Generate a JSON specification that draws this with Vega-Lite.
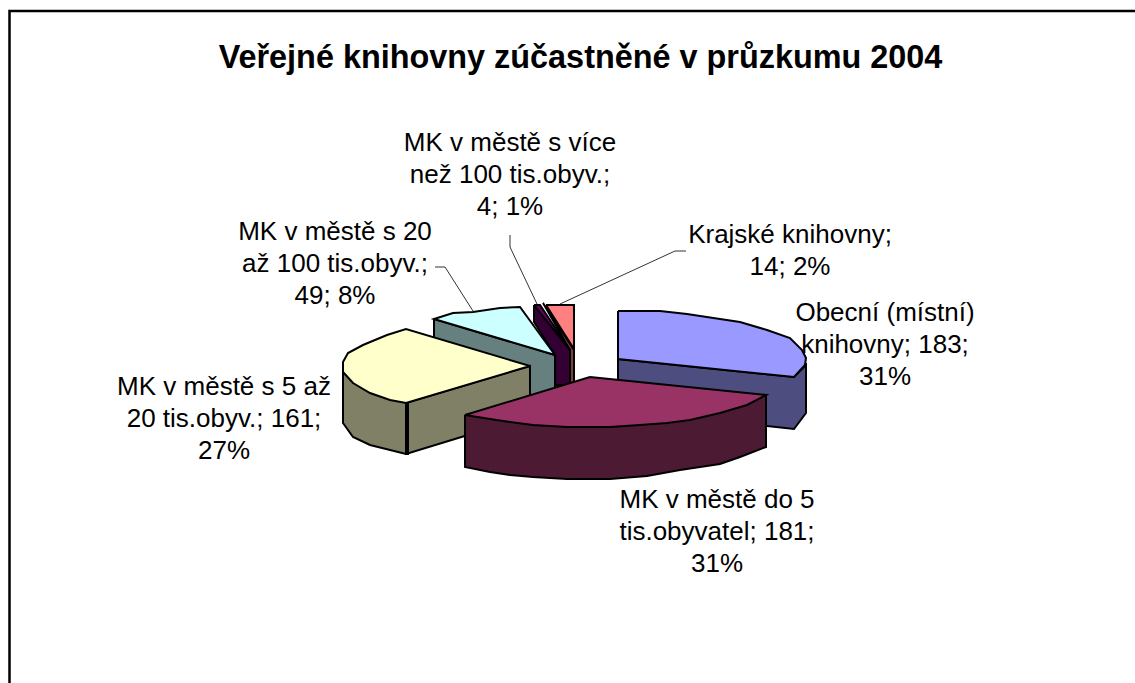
{"$schema":"https://vega.github.io/schema/vega-lite/v6.json","width":1135,"height":683,"padding":0,"autosize":{"type":"none"},"background":"white","view":{"stroke":null},
"title":{"text":"Veřejné knihovny zúčastněné v průzkumu 2004","anchor":"middle","offset":0,"dy":74,"dx":13,"font":"Liberation Sans","fontSize":32.4,"fontWeight":"bold","color":"black"},
"datasets":{
"shapes":[
{"p":"blue side","i":1,"x":618,"y":359},{"p":"blue side","i":2,"x":794,"y":377},{"p":"blue side","i":3,"x":806,"y":365},{"p":"blue side","i":4,"x":806,"y":413},{"p":"blue side","i":5,"x":794,"y":429},{"p":"blue side","i":6,"x":767,"y":426},{"p":"blue side","i":7,"x":618,"y":400},{"p":"blue side","i":8,"x":618,"y":359},
{"p":"blue top","i":1,"x":618,"y":311},{"p":"blue top","i":2,"x":660,"y":311},{"p":"blue top","i":3,"x":687,"y":314},{"p":"blue top","i":4,"x":720,"y":319},{"p":"blue top","i":5,"x":740,"y":322},{"p":"blue top","i":6,"x":767,"y":330},{"p":"blue top","i":7,"x":790,"y":338},{"p":"blue top","i":8,"x":802,"y":350},{"p":"blue top","i":9,"x":806,"y":358},{"p":"blue top","i":10,"x":805,"y":365},{"p":"blue top","i":11,"x":794,"y":377},{"p":"blue top","i":12,"x":618,"y":359},{"p":"blue top","i":13,"x":618,"y":311},
{"p":"salmon side","i":1,"x":543,"y":303},{"p":"salmon side","i":2,"x":574,"y":350},{"p":"salmon side","i":3,"x":574,"y":385},{"p":"salmon side","i":4,"x":570,"y":385},{"p":"salmon side","i":5,"x":570,"y":350},{"p":"salmon side","i":6,"x":543,"y":303},
{"p":"salmon top","i":1,"x":546,"y":305},{"p":"salmon top","i":2,"x":574,"y":305},{"p":"salmon top","i":3,"x":574,"y":349},{"p":"salmon top","i":4,"x":546,"y":305},
{"p":"purple side","i":1,"x":534,"y":305},{"p":"purple side","i":2,"x":570,"y":350},{"p":"purple side","i":3,"x":570,"y":385},{"p":"purple side","i":4,"x":555,"y":385},{"p":"purple side","i":5,"x":555,"y":355},{"p":"purple side","i":6,"x":534,"y":322},{"p":"purple side","i":7,"x":534,"y":305},
{"p":"purple top","i":1,"x":534,"y":305},{"p":"purple top","i":2,"x":540,"y":305},{"p":"purple top","i":3,"x":570,"y":350},{"p":"purple top","i":4,"x":534,"y":305},
{"p":"teal side","i":1,"x":434,"y":319},{"p":"teal side","i":2,"x":555,"y":355},{"p":"teal side","i":3,"x":555,"y":400},{"p":"teal side","i":4,"x":500,"y":415},{"p":"teal side","i":5,"x":434,"y":340},{"p":"teal side","i":6,"x":434,"y":319},
{"p":"teal top","i":1,"x":555,"y":355},{"p":"teal top","i":2,"x":520,"y":307},{"p":"teal top","i":3,"x":500,"y":308},{"p":"teal top","i":4,"x":473,"y":312},{"p":"teal top","i":5,"x":453,"y":313},{"p":"teal top","i":6,"x":434,"y":319},{"p":"teal top","i":7,"x":555,"y":355},
{"p":"yellow side","i":1,"x":343,"y":370},{"p":"yellow side","i":2,"x":406,"y":403},{"p":"yellow side","i":3,"x":530,"y":366},{"p":"yellow side","i":4,"x":530,"y":416},{"p":"yellow side","i":5,"x":406,"y":454},{"p":"yellow side","i":6,"x":370,"y":445},{"p":"yellow side","i":7,"x":353,"y":437},{"p":"yellow side","i":8,"x":343,"y":423},{"p":"yellow side","i":9,"x":343,"y":370},
{"p":"yellow edge","i":1,"x":406,"y":403},{"p":"yellow edge","i":2,"x":406,"y":454},{"p":"yellow edge","i":3,"x":408,"y":454},{"p":"yellow edge","i":4,"x":408,"y":403},{"p":"yellow edge","i":5,"x":406,"y":403},
{"p":"yellow top","i":1,"x":530,"y":366},{"p":"yellow top","i":2,"x":406,"y":329},{"p":"yellow top","i":3,"x":387,"y":335},{"p":"yellow top","i":4,"x":363,"y":345},{"p":"yellow top","i":5,"x":348,"y":353},{"p":"yellow top","i":6,"x":343,"y":362},{"p":"yellow top","i":7,"x":343,"y":372},{"p":"yellow top","i":8,"x":353,"y":383},{"p":"yellow top","i":9,"x":370,"y":393},{"p":"yellow top","i":10,"x":390,"y":400},{"p":"yellow top","i":11,"x":406,"y":403},{"p":"yellow top","i":12,"x":530,"y":366},
{"p":"maroon side","i":1,"x":465,"y":415},{"p":"maroon side","i":2,"x":465,"y":467},{"p":"maroon side","i":3,"x":490,"y":472},{"p":"maroon side","i":4,"x":510,"y":475},{"p":"maroon side","i":5,"x":533,"y":477},{"p":"maroon side","i":6,"x":567,"y":479},{"p":"maroon side","i":7,"x":610,"y":479},{"p":"maroon side","i":8,"x":647,"y":476},{"p":"maroon side","i":9,"x":680,"y":470},{"p":"maroon side","i":10,"x":720,"y":464},{"p":"maroon side","i":11,"x":740,"y":457},{"p":"maroon side","i":12,"x":766,"y":447},{"p":"maroon side","i":13,"x":766,"y":395},{"p":"maroon side","i":14,"x":465,"y":415},
{"p":"maroon top","i":1,"x":590,"y":377},{"p":"maroon top","i":2,"x":766,"y":395},{"p":"maroon top","i":3,"x":747,"y":405},{"p":"maroon top","i":4,"x":720,"y":413},{"p":"maroon top","i":5,"x":690,"y":420},{"p":"maroon top","i":6,"x":667,"y":423},{"p":"maroon top","i":7,"x":640,"y":425},{"p":"maroon top","i":8,"x":610,"y":427},{"p":"maroon top","i":9,"x":567,"y":427},{"p":"maroon top","i":10,"x":533,"y":425},{"p":"maroon top","i":11,"x":510,"y":422},{"p":"maroon top","i":12,"x":490,"y":419},{"p":"maroon top","i":13,"x":465,"y":415},{"p":"maroon top","i":14,"x":590,"y":377}
],
"leaders":[
{"k":"teal","i":1,"x":435,"y":267},{"k":"teal","i":2,"x":445,"y":267},{"k":"teal","i":3,"x":473,"y":311},
{"k":"purple","i":1,"x":510,"y":235},{"k":"purple","i":2,"x":510,"y":247},{"k":"purple","i":3,"x":537,"y":304},
{"k":"salmon","i":1,"x":686,"y":251},{"k":"salmon","i":2,"x":675,"y":251},{"k":"salmon","i":3,"x":560,"y":304}
],
"frame":[{"i":1,"x":9.5,"y":683},{"i":2,"x":9.5,"y":11},{"i":3,"x":1135,"y":11}],
"labels":[
{"t":"MK v městě s více\nnež 100 tis.obyv.;\n4; 1%","x":510,"y":143},
{"t":"Krajské knihovny;\n14; 2%","x":790,"y":235},
{"t":"Obecní (místní)\nknihovny; 183;\n31%","x":885,"y":313},
{"t":"MK v městě s 20\naž 100 tis.obyv.;\n49; 8%","x":335,"y":232},
{"t":"MK v městě s 5 až\n20 tis.obyv.; 161;\n27%","x":224,"y":387},
{"t":"MK v městě do 5\ntis.obyvatel; 181;\n31%","x":717,"y":500}
]},
"data":{"name":"shapes"},
"resolve":{"scale":{"x":"shared","y":"shared"}},
"layer":[
{"data":{"name":"frame"},"mark":{"type":"line","stroke":"black","strokeWidth":2.5,"clip":true},"encoding":{"x":{"field":"x","type":"quantitative","scale":{"domain":[0,1135],"nice":false,"zero":false},"axis":null},"y":{"field":"y","type":"quantitative","scale":{"domain":[683,0],"nice":false,"zero":false},"axis":null},"order":{"field":"i"}}},
{"data":{"name":"leaders"},"mark":{"type":"line","stroke":"#333333","strokeWidth":1},"encoding":{"x":{"field":"x","type":"quantitative"},"y":{"field":"y","type":"quantitative"},"detail":{"field":"k"},"order":{"field":"i"}}},
{"mark":{"type":"line","stroke":"black","strokeWidth":2,"strokeJoin":"miter"},"encoding":{"x":{"field":"x","type":"quantitative"},"y":{"field":"y","type":"quantitative"},"detail":{"field":"p"},"order":{"field":"i"},"fill":{"field":"p","type":"nominal","legend":null,"sort":null,"scale":{"domain":["blue side","blue top","salmon side","salmon top","purple side","purple top","teal side","teal top","yellow side","yellow edge","yellow top","maroon side","maroon top"],"range":["#4D4D80","#9999FF","#804040","#FF8080","#330033","#660066","#668080","#CCFFFF","#808066","#000000","#FFFFCC","#4D1A33","#993366"]}}}},
{"data":{"name":"labels"},"mark":{"type":"text","font":"Liberation Sans","fontSize":26,"color":"black","align":"center","baseline":"middle","lineBreak":"\n","lineHeight":32},"encoding":{"x":{"field":"x","type":"quantitative"},"y":{"field":"y","type":"quantitative"},"text":{"field":"t"}}}
]}
